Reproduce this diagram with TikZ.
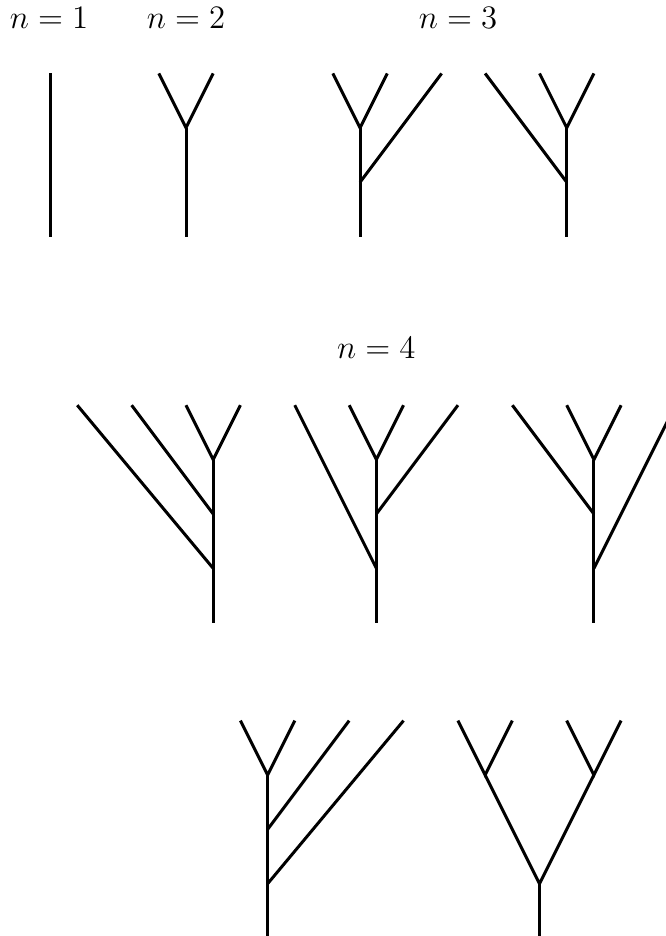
\documentclass[tikz,border=0pt]{standalone}
\usepackage{amsmath, amssymb}
\usepackage{tikz}
\usetikzlibrary{positioning}

\tikzset{
  branch/.style={line width=1.1pt, line cap=butt},
  label/.style={font=\fontsize{11.5}{14}\selectfont, anchor=base}
}

\begin{document}
\begin{tikzpicture}[x=0.7cm, y=0.7cm]
  \useasboundingbox (0,0) rectangle (12.24,-17.21);

  % Labels
  \node[label] (n1) at (0.90, -0.53) {$n=1$};
  \node[label] (n2) at (3.42, -0.53) {$n=2$};
  \node[label] (n3) at (8.42, -0.53) {$n=3$};
  \node[label] (n4) at (6.92, -6.60) {$n=4$};

  % n = 1
  \draw[branch] (0.92, -1.35) -- (0.92, -4.35);

  % n = 2
  \draw[branch] (3.42, -4.35) -- (3.42, -2.35);
  \draw[branch] (2.92, -1.35) -- (3.42, -2.35) -- (3.92, -1.35);

  % n = 3, left comb
  \draw[branch] (6.62, -4.35) -- (6.62, -2.35);
  \draw[branch] (6.12, -1.35) -- (6.62, -2.35) -- (7.12, -1.35);
  \draw[branch] (6.62, -3.35) -- (8.12, -1.35);

  % n = 3, right comb
  \draw[branch] (10.42, -4.35) -- (10.42, -2.35);
  \draw[branch] (9.92, -1.35) -- (10.42, -2.35) -- (10.92, -1.35);
  \draw[branch] (10.42, -3.35) -- (8.92, -1.35);

  % n = 4, first row
  \draw[branch] (3.92, -11.45) -- (3.92, -8.45);
  \draw[branch] (3.42, -7.45) -- (3.92, -8.45) -- (4.42, -7.45);
  \draw[branch] (3.92, -9.45) -- (2.42, -7.45);
  \draw[branch] (3.92, -10.45) -- (1.42, -7.45);

  \draw[branch] (6.92, -11.45) -- (6.92, -8.45);
  \draw[branch] (6.42, -7.45) -- (6.92, -8.45) -- (7.42, -7.45);
  \draw[branch] (6.92, -9.45) -- (8.42, -7.45);
  \draw[branch] (6.92, -10.45) -- (5.42, -7.45);

  \draw[branch] (10.92, -11.45) -- (10.92, -8.45);
  \draw[branch] (10.42, -7.45) -- (10.92, -8.45) -- (11.42, -7.45);
  \draw[branch] (10.92, -9.45) -- (9.42, -7.45);
  \draw[branch] (10.92, -10.45) -- (12.42, -7.45);

  % n = 4, second row
  \draw[branch] (4.92, -17.25) -- (4.92, -14.25);
  \draw[branch] (4.42, -13.25) -- (4.92, -14.25) -- (5.42, -13.25);
  \draw[branch] (4.92, -15.25) -- (6.42, -13.25);
  \draw[branch] (4.92, -16.25) -- (7.42, -13.25);

  \draw[branch] (9.92, -17.25) -- (9.92, -16.25);
  \draw[branch] (8.92, -14.25) -- (9.92, -16.25) -- (10.92, -14.25);
  \draw[branch] (8.42, -13.25) -- (8.92, -14.25) -- (9.42, -13.25);
  \draw[branch] (10.42, -13.25) -- (10.92, -14.25) -- (11.42, -13.25);
\end{tikzpicture}
\end{document}
